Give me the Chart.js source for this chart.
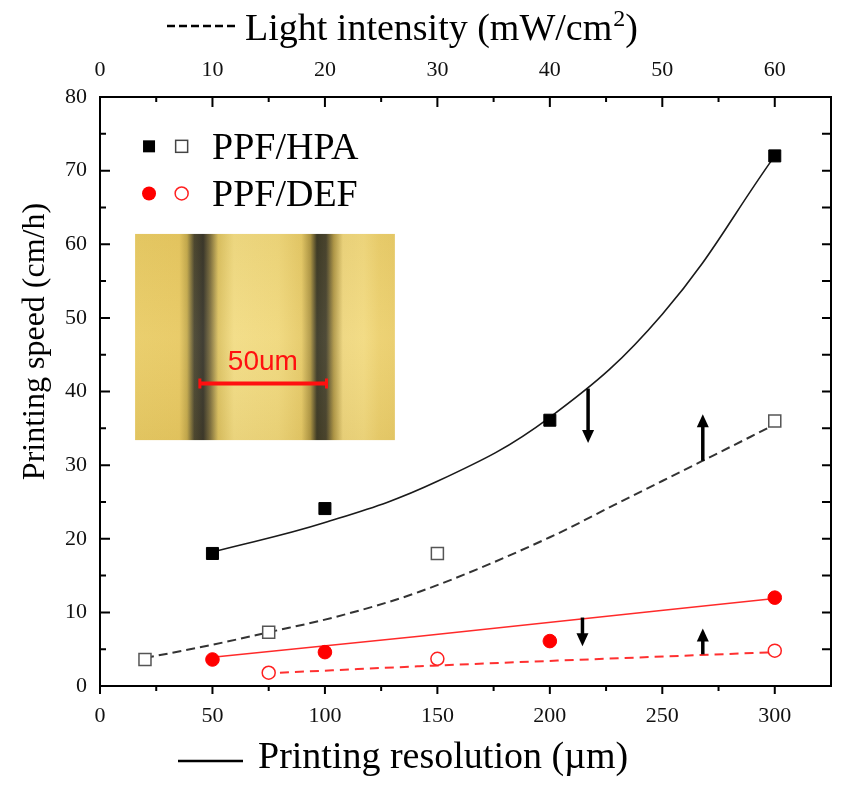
<!DOCTYPE html>
<html lang="en">
<head>
    <meta charset="UTF-8">
    <title>Printing speed vs resolution and light intensity</title>
    <script src="https://cdn.jsdelivr.net/npm/chart.js"></script>
    <style>
        body { margin: 0; background: #fff; }
        #wrap { width: 865px; height: 785px; position: relative; }
    </style>
</head>
<body>
<div id="wrap"><canvas id="chart_speed"></canvas></div>

<script>
    // measured points, bottom axis = printing resolution (um)
    const resolution = [50, 100, 200, 300];
    const hpaSpeed = [18, 24.1, 36.1, 72];
    const defSpeed = [3.6, 4.6, 6.1, 12];

    // measured points, top axis = light intensity (mW/cm2)
    const intensityHpa = [4, 15, 30, 60];
    const hpaSpeedLight = [3.6, 7.3, 18, 36];
    const intensityDef = [15, 30, 60];
    const defSpeedLight = [1.8, 3.7, 4.8];

    // fitted curves
    const hpaFitX = [50, 100, 150, 200, 250, 300];
    const hpaFitY = [18.2, 22.2, 27.8, 36.5, 50.5, 72];
    const hpaLightFitX = [4, 10, 15, 21, 28.4, 40, 46, 53.6, 60];
    const hpaLightFitY = [3.8, 5.6, 7.3, 9.4, 12.8, 20.2, 24.8, 30.6, 35.5];
    const defFitX = [50, 142, 300];
    const defFitY = [3.9, 6.75, 11.9];
    const defLightFitX = [16, 28.4, 60];
    const defLightFitY = [1.8, 2.68, 4.6];

    // arrows: [resolution, from speed, to speed]
    const arrows = [[217, 40.4, 33], [268, 30.6, 36.9], [214.5, 9.3, 5.4], [268, 4.3, 7.8]];

    const yTicks = [0, 10, 20, 30, 40, 50, 60, 70, 80];

    const pts = (xs, ys) => xs.map((v, i) => ({x: v, y: ys[i]}));
    const serif = 'Liberation Serif, Times New Roman, serif';

    // micrograph inset, placed in data units of the bottom / left axes
    const inset = {x0: 15.6, x1: 131.1, y0: 61.4, y1: 33.4};
    const insetStops = [
        [0, '#e9cc66'], [0.17, '#e8c962'], [0.2, '#c4aa4e'], [0.228, '#4a4630'],
        [0.262, '#36342a'], [0.29, '#7e7040'], [0.32, '#dcc262'], [0.38, '#f2dc84'],
        [0.55, '#f0d87c'], [0.64, '#e6ca68'], [0.675, '#ae9644'], [0.7, '#3a3826'],
        [0.735, '#46422e'], [0.765, '#b09848'], [0.8, '#eed67e'], [0.88, '#f2da80'],
        [0.94, '#ecd06e'], [1, '#eacd6a']
    ];

    function drawInset(chart) {
        const {x, y} = chart.scales;
        const ctx = chart.ctx;
        const l = x.getPixelForValue(inset.x0), r = x.getPixelForValue(inset.x1);
        const t = y.getPixelForValue(inset.y0), b = y.getPixelForValue(inset.y1);
        ctx.save();
        const g = ctx.createLinearGradient(l, 0, r, 0);
        insetStops.forEach(s => g.addColorStop(s[0], s[1]));
        ctx.fillStyle = g;
        ctx.fillRect(l, t, r - l, b - t);
        // soft shading so it does not look flat
        const v = ctx.createLinearGradient(0, t, 0, b);
        v.addColorStop(0, 'rgba(120,90,20,0.05)');
        v.addColorStop(0.5, 'rgba(255,255,255,0.05)');
        v.addColorStop(1, 'rgba(120,90,20,0.07)');
        ctx.fillStyle = v;
        ctx.fillRect(l, t, r - l, b - t);

        // scale bar
        const bx0 = x.getPixelForValue(44.4), bx1 = x.getPixelForValue(100.7);
        const by = y.getPixelForValue(41.1);
        ctx.strokeStyle = '#ff1010';
        ctx.lineWidth = 4;
        ctx.beginPath(); ctx.moveTo(bx0, by); ctx.lineTo(bx1, by); ctx.stroke();
        ctx.lineWidth = 3;
        ctx.beginPath();
        ctx.moveTo(bx0, by - 5); ctx.lineTo(bx0, by + 5);
        ctx.moveTo(bx1, by - 5); ctx.lineTo(bx1, by + 5);
        ctx.stroke();
        ctx.fillStyle = '#ff1010';
        ctx.font = '28px Liberation Sans, Arial, sans-serif';
        ctx.textAlign = 'center';
        ctx.textBaseline = 'alphabetic';
        ctx.fillText('50um', x.getPixelForValue(72.4), y.getPixelForValue(42.9));
        ctx.restore();
    }

    function drawAxes(chart) {
        const {x, x2, y} = chart.scales;
        const a = chart.chartArea;
        const ctx = chart.ctx;
        ctx.save();
        ctx.strokeStyle = '#000';
        ctx.lineWidth = 2;
        ctx.strokeRect(a.left, a.top, a.right - a.left, a.bottom - a.top);
        ctx.beginPath();
        // bottom: outward
        for (let v = 0; v <= 300; v += 25) {
            const px = x.getPixelForValue(v);
            const len = v % 50 === 0 ? 8 : 5;
            ctx.moveTo(px, a.bottom); ctx.lineTo(px, a.bottom + len);
        }
        // top: inward
        for (let v = 5; v <= 60; v += 5) {
            const px = x2.getPixelForValue(v);
            const len = v % 10 === 0 ? 10 : 5;
            ctx.moveTo(px, a.top); ctx.lineTo(px, a.top + len);
        }
        // left and right: inward
        for (let v = 5; v < 80; v += 5) {
            const py = y.getPixelForValue(v);
            const len = v % 10 === 0 ? 10 : 6;
            ctx.moveTo(a.left, py); ctx.lineTo(a.left + len, py);
            ctx.moveTo(a.right, py); ctx.lineTo(a.right - 9, py);
        }
        ctx.stroke();
        ctx.restore();
    }

    function drawArrows(chart) {
        const {x, y} = chart.scales;
        const ctx = chart.ctx;
        ctx.save();
        ctx.strokeStyle = '#000';
        ctx.fillStyle = '#000';
        arrows.forEach(ar => {
            const px = x.getPixelForValue(ar[0]);
            const p0 = y.getPixelForValue(ar[1]);
            const p1 = y.getPixelForValue(ar[2]);
            const dir = p1 > p0 ? 1 : -1;
            ctx.lineWidth = 3.5;
            ctx.beginPath(); ctx.moveTo(px, p0); ctx.lineTo(px, p1 - dir * 11); ctx.stroke();
            ctx.beginPath();
            ctx.moveTo(px, p1);
            ctx.lineTo(px - 6, p1 - dir * 13);
            ctx.lineTo(px + 6, p1 - dir * 13);
            ctx.closePath();
            ctx.fill();
        });
        ctx.restore();
    }

    function drawLegend(chart) {
        const {x, y} = chart.scales;
        const ctx = chart.ctx;
        const m1 = x.getPixelForValue(21.8), m2 = x.getPixelForValue(36.3), tx = x.getPixelForValue(49.8);
        const r1 = y.getPixelForValue(73.3), r2 = y.getPixelForValue(66.9);
        ctx.save();
        ctx.fillStyle = '#000';
        ctx.fillRect(m1 - 6, r1 - 6, 12, 12);
        ctx.strokeStyle = '#444';
        ctx.lineWidth = 1.5;
        ctx.strokeRect(m2 - 6, r1 - 6, 12, 12);
        ctx.fillStyle = '#ff0000';
        ctx.beginPath(); ctx.arc(m1, r2, 7, 0, Math.PI * 2); ctx.fill();
        ctx.strokeStyle = '#ff2020';
        ctx.beginPath(); ctx.arc(m2, r2, 6.5, 0, Math.PI * 2); ctx.stroke();
        ctx.fillStyle = '#000';
        ctx.font = '38px ' + serif;
        ctx.textAlign = 'left';
        ctx.textBaseline = 'alphabetic';
        ctx.fillText('PPF/HPA', tx, r1 + 13);
        ctx.fillText('PPF/DEF', tx, r2 + 13);
        ctx.restore();
    }

    function drawTitles(chart) {
        const a = chart.chartArea;
        const ctx = chart.ctx;
        ctx.save();
        ctx.fillStyle = '#000';
        ctx.strokeStyle = '#000';
        ctx.textBaseline = 'alphabetic';
        ctx.textAlign = 'left';

        // top title with dashed sample
        ctx.lineWidth = 2.5;
        ctx.setLineDash([8, 4]);
        ctx.beginPath(); ctx.moveTo(167, 26); ctx.lineTo(236, 26); ctx.stroke();
        ctx.setLineDash([]);
        ctx.font = '38px ' + serif;
        let tx = 245;
        const part1 = 'Light intensity (mW/cm';
        ctx.fillText(part1, tx, 40);
        tx += ctx.measureText(part1).width;
        ctx.font = '24px ' + serif;
        ctx.fillText('2', tx + 1, 26);
        tx += ctx.measureText('2').width + 1;
        ctx.font = '38px ' + serif;
        ctx.fillText(')', tx, 40);

        // bottom title with solid sample
        ctx.lineWidth = 2.5;
        ctx.beginPath(); ctx.moveTo(178, 761); ctx.lineTo(243, 761); ctx.stroke();
        ctx.fillText('Printing resolution (\u00b5m)', 258, 768);

        // left title
        ctx.translate(36, (a.top + a.bottom) / 2 - 50);
        ctx.rotate(-Math.PI / 2);
        ctx.font = '32px ' + serif;
        ctx.textAlign = 'center';
        ctx.textBaseline = 'middle';
        ctx.fillText('Printing speed (cm/h)', 0, 0);
        ctx.restore();
    }

    const decor = {
        id: 'decor',
        beforeDatasetsDraw(chart) { drawInset(chart); },
        afterDraw(chart) {
            drawAxes(chart);
            drawArrows(chart);
            drawLegend(chart);
            drawTitles(chart);
        }
    };

    const tickFont = {family: serif, size: 22};

    const ctx = document.getElementById('chart_speed').getContext('2d');
    new Chart(ctx, {
        type: 'scatter',
        data: {
            datasets: [
                {
                    label: 'PPF/HPA resolution',
                    data: pts(resolution, hpaSpeed),
                    xAxisID: 'x',
                    pointStyle: 'rect', pointRadius: 8.5,
                    backgroundColor: '#000', borderColor: '#000', borderWidth: 1,
                    order: 0
                },
                {
                    label: 'PPF/HPA light',
                    data: pts(intensityHpa, hpaSpeedLight),
                    xAxisID: 'x2',
                    pointStyle: 'rect', pointRadius: 8.5,
                    backgroundColor: '#fff', borderColor: '#555', borderWidth: 1.5,
                    order: 0
                },
                {
                    label: 'PPF/DEF resolution',
                    data: pts(resolution, defSpeed),
                    xAxisID: 'x',
                    pointStyle: 'circle', pointRadius: 6.8,
                    backgroundColor: '#ff0000', borderColor: '#ff0000', borderWidth: 1,
                    order: 0
                },
                {
                    label: 'PPF/DEF light',
                    data: pts(intensityDef, defSpeedLight),
                    xAxisID: 'x2',
                    pointStyle: 'circle', pointRadius: 6.5,
                    backgroundColor: '#fff', borderColor: '#ff2020', borderWidth: 1.5,
                    order: 0
                },
                {
                    label: 'HPA fit',
                    data: pts(hpaFitX, hpaFitY),
                    xAxisID: 'x', showLine: true, pointRadius: 0,
                    borderColor: '#1a1a1a', borderWidth: 1.6,
                    tension: 0.4,
                    order: 1
                },
                {
                    label: 'HPA light fit',
                    data: pts(hpaLightFitX, hpaLightFitY),
                    xAxisID: 'x2', showLine: true, pointRadius: 0,
                    borderColor: '#333', borderWidth: 2, borderDash: [9, 5],
                    cubicInterpolationMode: 'monotone',
                    order: 1
                },
                {
                    label: 'DEF fit',
                    data: pts(defFitX, defFitY),
                    xAxisID: 'x', showLine: true, pointRadius: 0,
                    borderColor: '#ff2a2a', borderWidth: 1.5,
                    cubicInterpolationMode: 'monotone',
                    order: 1
                },
                {
                    label: 'DEF light fit',
                    data: pts(defLightFitX, defLightFitY),
                    xAxisID: 'x2', showLine: true, pointRadius: 0,
                    borderColor: '#ff3030', borderWidth: 2, borderDash: [9, 6],
                    cubicInterpolationMode: 'monotone',
                    order: 1
                }
            ]
        },
        options: {
            responsive: true,
            maintainAspectRatio: false,
            animation: false,
            layout: { padding: { right: 34, left: 0, top: 0, bottom: 0 } },
            plugins: {
                legend: { display: false },
                tooltip: { enabled: false }
            },
            scales: {
                x: {
                    type: 'linear', position: 'bottom',
                    min: 0, max: 325,
                    grid: { display: false, drawTicks: false },
                    border: { display: false },
                    ticks: { stepSize: 50, includeBounds: false, font: tickFont, color: '#111', padding: 17, maxRotation: 0, autoSkip: false },
                    afterFit: s => { s.height = 99; }
                },
                x2: {
                    type: 'linear', position: 'top',
                    min: 0, max: 65,
                    grid: { display: false, drawTicks: false },
                    border: { display: false },
                    ticks: { stepSize: 10, includeBounds: false, font: tickFont, color: '#111', padding: 14, maxRotation: 0, autoSkip: false },
                    afterFit: s => { s.height = 97; }
                },
                y: {
                    type: 'linear', position: 'left',
                    min: 0, max: 80,
                    grid: { display: false, drawTicks: false },
                    border: { display: false },
                    ticks: { stepSize: 10, font: tickFont, color: '#111', padding: 13 },
                    afterBuildTicks: s => { s.ticks = yTicks.map(v => ({value: v})); },
                    afterFit: s => { s.width = 100; }
                }
            }
        },
        plugins: [decor]
    });
</script>
</body>
</html>
